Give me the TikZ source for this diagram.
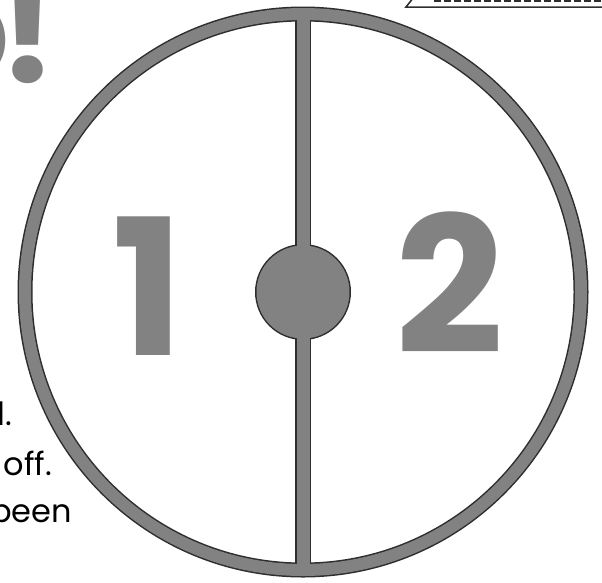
\documentclass[tikz,border=0pt]{standalone}
\usepackage{fontspec}
\setmainfont{Liberation Sans}
\newfontfamily\handfont{Poppins}
\newfontfamily\numfont{Poppins}
\usetikzlibrary{positioning, calc}
\definecolor{inkgray}{HTML}{828282}
\definecolor{edgecol}{HTML}{2E2E2E}
\tikzset{
    edgeline/.style={draw=edgecol, line cap=butt},
    coreline/.style={draw=inkgray, line cap=butt},
    bignum/.style={
        inner sep=0pt, text=inkgray,
        font=\numfont\fontsize{190}{190}\selectfont\bfseries,
    },
    shout/.style={
        inner sep=0pt, text=inkgray,
        font=\numfont\fontsize{150}{150}\selectfont\bfseries,
    },
    lbl/.style={inner sep=0pt, text=black, font=\handfont\fontsize{32}{32}\selectfont},
    banner/.style={draw=edgecol, line width=1.5pt},
}

\begin{document}
\begin{tikzpicture}[x=1pt, y=-1pt]
\useasboundingbox (0,0) rectangle (602,582);
\clip (0,0) rectangle (602,582);

% ── Dial ──────────────────────────────────────────────────────────
\coordinate (c) at (303,292);
\coordinate (top) at (303,14);
\coordinate (bot) at (303,570);

% dark edge first, gray core on top
\draw[edgeline, line width=15pt] (c) circle[radius=278pt];
\draw[edgeline, line width=16pt] (top) -- (bot);
\fill[edgecol] (c) circle[radius=48pt];
\draw[coreline, line width=12pt] (c) circle[radius=278pt];
\draw[coreline, line width=13pt] (top) -- (bot);
\fill[inkgray] (c) circle[radius=46.5pt];

% ── Numbers ───────────────────────────────────────────────────────
\node[bignum, anchor=base] (one) at (148,355) {1};
\node[bignum, anchor=base] (two) at (450,353) {2};

% ── Title remnant ─────────────────────────────────────────────────
\node[shout, anchor=base east] (title) at (57,82) {o\kern-12pt!};

% ── Side text ─────────────────────────────────────────────────────
\node[lbl, anchor=base west] (line1) at (-3,425) {l.};
\node[lbl, anchor=base east] (line2) at (52,475) {off.};
\node[lbl, anchor=base east] (line3) at (72,522) {been};

% ── Name banner ───────────────────────────────────────────────────
\coordinate (bn1) at (414,-3);
\coordinate (bn2) at (406,7);
\coordinate (bn3) at (610,7);
\draw[banner] (bn1) -- (bn2) -- (bn3);
\draw[banner, line width=1.2pt, dash pattern=on 7pt off 3pt] (434,1) -- (610,1);

\end{tikzpicture}
\end{document}
